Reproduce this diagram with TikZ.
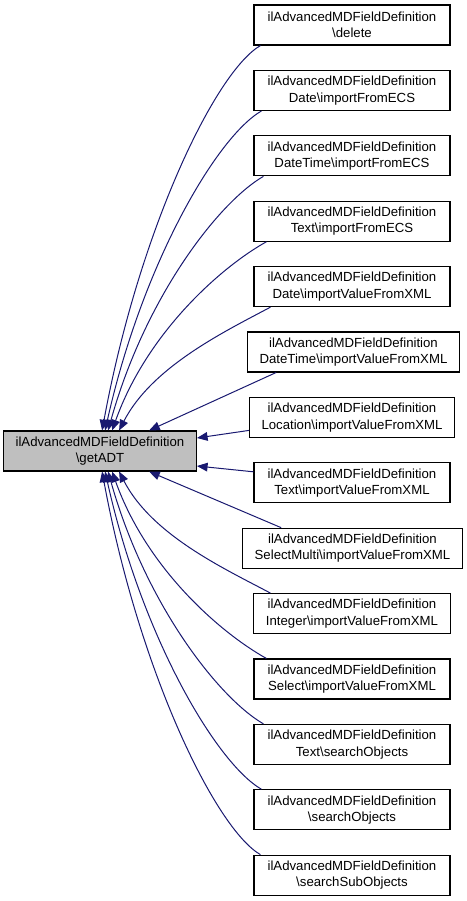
\documentclass[tikz,border=0pt]{standalone}
\usepackage{fontspec}
\setmainfont{Liberation Sans}
\usetikzlibrary{arrows.meta,calc}
\definecolor{edgec}{RGB}{25,25,112}
\definecolor{gfill}{RGB}{191,191,191}
\begin{document}
\begin{tikzpicture}[x=0.75pt,y=-0.75pt,
 box/.style={draw=black,line width=0.8pt,align=center,inner xsep=9pt,inner ysep=0pt,minimum height=30pt,minimum width=147pt,font=\fontsize{9.9}{12.3}\selectfont},
 gbox/.style={box,fill=gfill,minimum width=144pt},
 edge/.style={draw=edgec,line width=0.75pt,-{Triangle[length=8pt,width=6.5pt]}}]
\useasboundingbox (0,0) rectangle (467,901);
\node[gbox] (g) at (100,451) {ilAdvancedMDFieldDefinition\\\textbackslash getADT};
\node[box] (r1) at (352,25) {ilAdvancedMDFieldDefinition\\\textbackslash delete};
\node[box] (r2) at (352,90.4) {ilAdvancedMDFieldDefinition\\Date\textbackslash importFromECS};
\node[box] (r3) at (352,155.8) {ilAdvancedMDFieldDefinition\\DateTime\textbackslash importFromECS};
\node[box] (r4) at (352,221.2) {ilAdvancedMDFieldDefinition\\Text\textbackslash importFromECS};
\node[box] (r5) at (352,286.6) {ilAdvancedMDFieldDefinition\\Date\textbackslash importValueFromXML};
\node[box] (r6) at (353.5,352) {ilAdvancedMDFieldDefinition\\DateTime\textbackslash importValueFromXML};
\node[box] (r7) at (352,417.4) {ilAdvancedMDFieldDefinition\\Location\textbackslash importValueFromXML};
\node[box] (r8) at (352,482.8) {ilAdvancedMDFieldDefinition\\Text\textbackslash importValueFromXML};
\node[box] (r9) at (352.5,548.2) {ilAdvancedMDFieldDefinition\\SelectMulti\textbackslash importValueFromXML};
\node[box] (r10) at (352,613.6) {ilAdvancedMDFieldDefinition\\Integer\textbackslash importValueFromXML};
\node[box] (r11) at (352,679) {ilAdvancedMDFieldDefinition\\Select\textbackslash importValueFromXML};
\node[box] (r12) at (352,744.4) {ilAdvancedMDFieldDefinition\\Text\textbackslash searchObjects};
\node[box] (r13) at (352,809.8) {ilAdvancedMDFieldDefinition\\\textbackslash searchObjects};
\node[box] (r14) at (352,875.2) {ilAdvancedMDFieldDefinition\\\textbackslash searchSubObjects};
% upper curved edges
\draw[edge] ($(r1.south west)+(7,0)$) .. controls +(-45,26) and +(37,-201) .. ($(g.north west)+(99,0)$);
\draw[edge] ($(r2.south west)+(8,0)$) .. controls +(-45,26) and +(37,-166) .. ($(g.north west)+(102,0)$);
\draw[edge] ($(r3.south west)+(10,0)$) .. controls +(-45,26) and +(37,-133) .. ($(g.north west)+(105,0)$);
\draw[edge] ($(r4.south west)+(13,0)$) .. controls +(-45,25) and +(35,-98) .. ($(g.north west)+(109,0)$);
\draw[edge] ($(r5.south west)+(17,0)$) .. controls +(-45,24) and +(33,-64) .. ($(g.north west)+(116,0)$);
% straight edges
\draw[edge] ($(r6.south west)+(29,0)$) -- ($(g.north west)+(146,0)$);
\draw[edge] ($(r7.west)+(0,13)$) -- ($(g.east)+(0,-13)$);
\draw[edge] ($(r8.west)+(0,-11)$) -- ($(g.east)+(0,15)$);
\draw[edge] ($(r9.north west)+(39,0)$) -- ($(g.south west)+(146,0)$);
% lower curved edges
\draw[edge] ($(r10.north west)+(17,0)$) .. controls +(-45,-24) and +(33,64) .. ($(g.south west)+(116,0)$);
\draw[edge] ($(r11.north west)+(13,0)$) .. controls +(-45,-25) and +(35,98) .. ($(g.south west)+(109,0)$);
\draw[edge] ($(r12.north west)+(10,0)$) .. controls +(-45,-26) and +(37,132) .. ($(g.south west)+(105,0)$);
\draw[edge] ($(r13.north west)+(8,0)$) .. controls +(-45,-26) and +(37,166) .. ($(g.south west)+(102,0)$);
\draw[edge] ($(r14.north west)+(7,0)$) .. controls +(-45,-26) and +(37,200) .. ($(g.south west)+(99,0)$);
\end{tikzpicture}
\end{document}
